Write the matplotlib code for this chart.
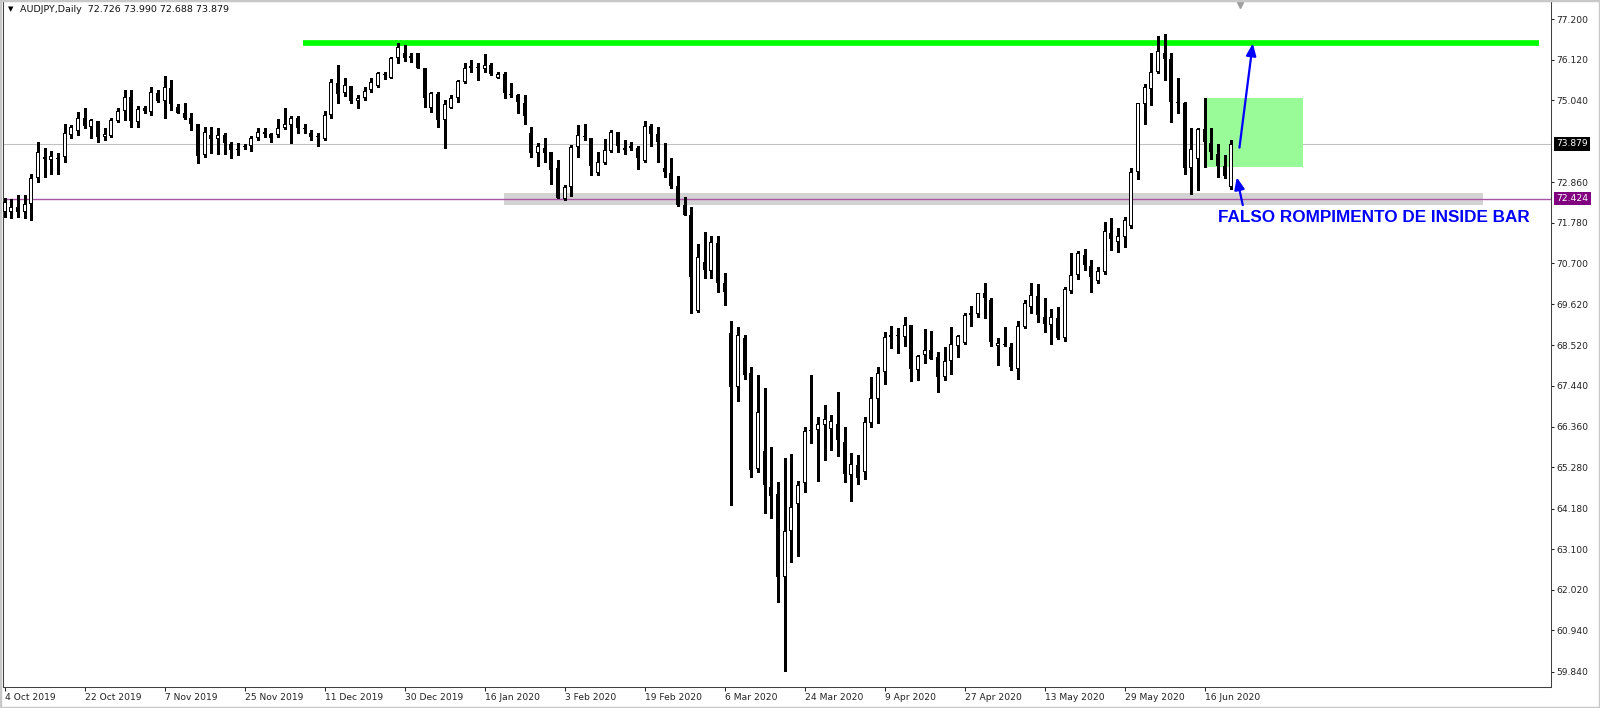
import numpy as np
import matplotlib.pyplot as plt
import matplotlib.transforms as mtransforms
from matplotlib.patches import Rectangle

# AUDJPY daily candles, 4 Oct 2019 .. 22 Jun 2020
opens = [72.08, 72.06, 72.21, 72.06, 72.27, 72.98, 73.54, 73.45, 73.51, 73.52,
         74.11, 74.22, 74.58, 74.34, 74.50, 74.05, 74.09, 74.49, 74.75, 75.13,
         74.47, 74.82, 74.73, 75.22, 75.02, 75.37, 74.87, 74.69, 74.58, 74.42,
         73.58, 74.11, 74.00, 74.11, 73.88, 73.74, 73.79, 73.82, 74.03, 74.20,
         74.13, 74.11, 74.31, 74.38, 74.56, 74.29, 74.18, 74.06, 74.01, 74.65,
         75.51, 75.22, 75.42, 75.02, 75.09, 75.31, 75.42, 75.70, 75.62, 76.15,
         76.30, 76.15, 76.29, 75.91, 74.84, 75.20, 74.51, 74.84, 75.11, 75.53,
         75.91, 75.92, 75.86, 75.98, 75.64, 75.73, 75.20, 75.18, 74.97, 74.18,
         73.63, 73.78, 73.65, 73.23, 72.41, 72.72, 73.80, 74.09, 74.03, 73.10,
         73.38, 73.70, 74.19, 73.78, 73.81, 73.78, 73.43, 74.35, 74.14, 73.25,
         73.11, 72.76, 72.25, 71.99, 69.44, 70.73, 70.50, 71.25, 70.19, 68.84,
         67.40, 68.71, 67.78, 65.23, 65.71, 64.74, 64.57, 62.35, 63.59, 64.29,
         64.85, 66.25, 66.27, 66.40, 66.29, 66.42, 65.96, 65.07, 65.34, 65.16,
         66.46, 67.09, 67.80, 68.73, 68.76, 68.73, 69.06, 67.86, 68.26, 68.41,
         68.20, 67.67, 68.10, 68.51, 68.57, 69.32, 69.35, 69.90, 69.73, 68.50,
         68.56, 68.47, 67.88, 69.02, 69.55, 69.83, 69.28, 69.06, 69.26, 68.72,
         69.97, 70.39, 70.92, 70.63, 70.24, 70.48, 71.50, 71.28, 71.41, 71.69,
         73.14, 74.94, 75.34, 75.78, 76.30, 76.13, 75.00, 74.96, 73.25, 73.47,
         74.27, 73.89, 73.60, 73.29, 72.726]
highs = [72.43, 72.40, 72.52, 72.52, 73.09, 73.94, 73.76, 73.69, 73.63, 74.41,
         74.37, 74.73, 74.82, 74.53, 74.50, 74.29, 74.58, 74.82, 75.31, 75.31,
         74.89, 74.89, 75.40, 75.31, 75.68, 75.58, 74.94, 74.96, 74.69, 74.42,
         74.34, 74.34, 74.31, 74.16, 73.94, 73.91, 73.87, 74.10, 74.29, 74.29,
         74.16, 74.53, 74.84, 74.62, 74.62, 74.40, 74.25, 74.16, 74.76, 75.60,
         75.98, 75.64, 75.42, 75.18, 75.40, 75.62, 75.80, 75.80, 76.20, 76.55,
         76.51, 76.29, 76.30, 75.91, 75.27, 75.27, 75.04, 75.18, 75.59, 76.02,
         76.11, 76.02, 76.26, 76.02, 75.78, 75.80, 75.49, 75.20, 75.18, 74.34,
         73.89, 74.03, 73.65, 73.45, 72.79, 73.85, 74.38, 74.41, 74.03, 73.67,
         74.00, 74.25, 74.19, 73.98, 73.94, 73.81, 74.50, 74.42, 74.34, 73.89,
         73.51, 73.02, 72.47, 72.21, 71.22, 71.53, 71.43, 71.43, 70.44, 69.18,
         69.00, 68.80, 67.95, 67.73, 67.38, 65.83, 64.88, 65.53, 65.63, 64.90,
         66.36, 67.72, 66.62, 66.94, 66.67, 67.27, 66.36, 65.65, 65.60, 66.62,
         67.67, 67.94, 68.88, 69.04, 68.97, 69.27, 69.06, 68.26, 68.95, 68.91,
         68.35, 68.49, 69.02, 68.80, 69.37, 69.57, 69.92, 70.19, 69.77, 68.71,
         69.00, 68.57, 69.18, 69.73, 70.17, 70.14, 69.77, 69.50, 69.53, 70.08,
         70.97, 71.03, 71.07, 70.79, 70.61, 71.81, 71.92, 71.63, 71.94, 73.23,
         74.97, 75.47, 76.29, 76.76, 76.79, 76.30, 75.62, 75.00, 74.31, 74.31,
         75.09, 74.31, 73.88, 73.57, 73.990]
lows = [71.94, 71.92, 71.94, 71.90, 71.85, 72.87, 73.00, 73.09, 73.08, 73.41,
        74.03, 74.11, 74.29, 74.03, 73.94, 73.98, 74.05, 74.47, 74.51, 74.34,
        74.34, 74.71, 74.66, 75.00, 74.58, 74.78, 74.69, 74.54, 74.25, 73.36,
        73.54, 73.63, 73.61, 73.61, 73.50, 73.58, 73.73, 73.70, 73.98, 74.07,
        73.94, 74.07, 74.27, 73.89, 74.18, 74.18, 73.98, 73.82, 73.98, 74.56,
        74.97, 75.15, 74.96, 74.84, 75.04, 75.27, 75.40, 75.60, 75.62, 76.02,
        76.09, 76.06, 75.89, 74.87, 74.73, 74.34, 73.76, 74.82, 75.00, 75.49,
        75.80, 75.58, 75.80, 75.71, 75.62, 75.11, 75.13, 74.69, 74.41, 73.54,
        73.29, 73.41, 72.81, 72.43, 72.39, 72.48, 73.54, 73.98, 73.05, 73.05,
        73.34, 73.67, 73.67, 73.61, 73.72, 73.20, 73.41, 73.81, 73.41, 73.01,
        72.70, 72.23, 71.99, 69.37, 69.42, 70.30, 70.30, 69.95, 69.59, 64.27,
        67.05, 67.62, 65.03, 65.16, 64.05, 63.92, 61.69, 59.87, 62.77, 62.92,
        64.63, 65.92, 64.90, 65.47, 65.74, 65.58, 64.88, 64.39, 64.83, 64.96,
        66.36, 66.46, 67.48, 68.46, 68.33, 68.50, 67.57, 67.60, 68.06, 68.17,
        67.29, 67.60, 67.76, 68.22, 68.56, 69.04, 69.28, 69.24, 68.50, 67.99,
        68.50, 67.86, 67.62, 68.97, 69.37, 69.15, 68.88, 68.56, 68.68, 68.64,
        69.90, 70.28, 70.52, 69.95, 70.19, 70.42, 71.06, 71.01, 71.14, 71.63,
        72.94, 74.42, 74.91, 75.76, 75.58, 74.47, 74.71, 73.08, 72.54, 72.65,
        73.27, 73.47, 72.99, 72.96, 72.688]
closes = [72.34, 72.21, 72.06, 72.27, 72.98, 73.65, 73.47, 73.56, 73.48, 74.16,
          74.34, 74.58, 74.35, 74.51, 74.07, 74.13, 74.51, 74.75, 75.13, 74.50,
          74.81, 74.75, 75.27, 75.02, 75.38, 74.93, 74.71, 74.58, 74.41, 73.56,
          74.20, 74.00, 74.11, 73.89, 73.72, 73.72, 73.82, 74.03, 74.20, 74.14,
          74.03, 74.31, 74.40, 74.56, 74.31, 74.27, 74.06, 74.08, 74.66, 75.53,
          75.20, 75.44, 75.03, 75.11, 75.29, 75.53, 75.76, 75.72, 76.17, 76.46,
          76.15, 76.22, 75.89, 75.11, 75.24, 74.51, 74.94, 75.11, 75.55, 75.91,
          75.95, 75.91, 75.98, 75.73, 75.73, 75.22, 75.18, 75.00, 74.62, 73.63,
          73.83, 73.63, 73.18, 72.43, 72.74, 73.80, 74.12, 74.05, 73.30, 73.41,
          73.72, 74.19, 73.81, 73.72, 73.76, 73.50, 74.35, 74.13, 73.94, 73.14,
          72.76, 72.25, 71.99, 70.35, 70.86, 70.52, 71.28, 70.17, 69.95, 67.42,
          68.80, 67.73, 65.21, 66.76, 64.81, 64.52, 62.37, 63.57, 64.23, 64.81,
          66.24, 66.27, 66.42, 66.55, 66.51, 66.00, 65.10, 65.37, 64.98, 66.49,
          67.11, 67.79, 68.75, 68.80, 68.78, 69.06, 67.88, 68.24, 68.40, 68.17,
          67.69, 68.10, 68.56, 68.77, 69.33, 69.37, 69.92, 69.79, 68.62, 68.57,
          68.54, 67.95, 69.04, 69.64, 69.86, 69.34, 69.10, 69.28, 68.71, 70.01,
          70.39, 70.97, 70.66, 70.33, 70.50, 71.56, 71.34, 71.43, 71.85, 73.14,
          74.96, 75.38, 75.80, 76.35, 76.13, 75.00, 74.97, 73.25, 73.73, 74.27,
          73.94, 73.67, 73.29, 73.03, 73.879]

date_labels = ['4 Oct 2019', '22 Oct 2019', '7 Nov 2019', '25 Nov 2019', '11 Dec 2019',
               '30 Dec 2019', '16 Jan 2020', '3 Feb 2020', '19 Feb 2020', '6 Mar 2020',
               '24 Mar 2020', '9 Apr 2020', '27 Apr 2020', '13 May 2020', '29 May 2020',
               '16 Jun 2020']
price_ticks = [77.200, 76.120, 75.040, 72.860, 71.780, 70.700, 69.620, 68.520,
               67.440, 66.360, 65.280, 64.180, 63.100, 62.020, 60.940, 59.840]

resistance = 76.567          # green line
support = 72.424             # purple line
band_low, band_high = 72.25, 72.56
mother_bar = 180             # inside-bar box drawn from this candle's range
last_price = closes[-1]

W, H = 1600, 708
fig = plt.figure(figsize=(W / 100, H / 100), dpi=100)
ax = fig.add_axes([3 / W, (H - 687) / H, (1551 - 3) / W, (687 - 1) / H])

n = len(opens)
x = np.arange(n)
ax.set_xlim(-0.255, 231.93)
ax.set_ylim(59.434, 77.679)

# pixel sizes in data units
px_x = (231.93 + 0.255) / 1548
px_y = (77.679 - 59.434) / 686

# background objects
ax.axhline(last_price, color='#C0C0C0', lw=0.75, zorder=1)
ax.add_patch(Rectangle((74.9, band_low), 221.8 - 74.9, band_high - band_low,
                       facecolor='#D3D3D3', edgecolor='none', zorder=1))
ax.axhline(support, color='#A855A8', lw=1.0, zorder=2)
ax.add_patch(Rectangle((mother_bar, lows[mother_bar]), 194.8 - mother_bar,
                       highs[mother_bar] - lows[mother_bar],
                       facecolor='#98FB98', edgecolor='none', zorder=1))
ax.hlines(resistance, 44.8, 230.2, color='#00FF00', lw=4.1, zorder=2)

# candles: black outer body, white inner body for rising days
ax.vlines(x, lows, highs, color='black', lw=0.75, zorder=3, antialiased=False)
bw = 4 * px_x
for i in range(n):
    o, c = opens[i], closes[i]
    bottom = min(o, c)
    h = max(abs(c - o), px_y)
    ax.add_patch(Rectangle((i - bw / 2, bottom), bw, h, facecolor='black',
                           edgecolor='none', zorder=4, antialiased=False))
    if c > o and h > 2.5 * px_y:
        ax.add_patch(Rectangle((i - bw / 2 + px_x, bottom + px_y), bw - 2 * px_x,
                               h - 2 * px_y, facecolor='white', edgecolor='none',
                               zorder=5, antialiased=False))

# arrows and note
blue = '#0000FF'
astyle = '-|>,head_length=0.6,head_width=0.25'
ax.annotate('', xy=(187.2, 76.55), xytext=(185.2, 73.78),
            arrowprops=dict(arrowstyle=astyle, color=blue, lw=1.6, mutation_scale=12,
                            shrinkA=0, shrinkB=0), zorder=6)
ax.annotate('', xy=(184.8, 72.99), xytext=(185.7, 72.25),
            arrowprops=dict(arrowstyle=astyle, color=blue, lw=1.6, mutation_scale=12,
                            shrinkA=0, shrinkB=0), zorder=6)
ax.text(182.0, 71.934, 'FALSO ROMPIMENTO DE INSIDE BAR', color=blue,
        fontsize=12.3, fontweight='bold', family='Liberation Sans',
        ha='left', va='center', zorder=6)

# axes styling
for s in ax.spines.values():
    s.set_color('#404040')
    s.set_linewidth(0.75)
ax.yaxis.tick_right()
ax.set_yticks(price_ticks)
ax.set_yticklabels(['%.3f' % v for v in price_ticks])
ax.tick_params(axis='y', length=2.2, width=0.75, pad=1.9, labelsize=6.6,
               colors='#222222')
ax.set_xticks(np.arange(0, 12 * len(date_labels), 12))
ax.set_xticklabels(date_labels, ha='left')
ax.tick_params(axis='x', length=3, width=0.75, pad=1.2, labelsize=6.6,
               colors='#222222')

# price boxes on the right scale
tr = mtransforms.blended_transform_factory(ax.transAxes, ax.transData)
tx = (1556.5 - 3) / (1551 - 3)
ax.text(tx, last_price, '%.3f' % last_price, transform=tr, fontsize=6.6,
        color='white', ha='left', va='center', clip_on=False,
        bbox=dict(boxstyle='square,pad=0.25', facecolor='black', edgecolor='none'))
ax.text(tx, support, '%.3f' % support, transform=tr, fontsize=6.6,
        color='white', ha='left', va='center', clip_on=False,
        bbox=dict(boxstyle='square,pad=0.25', facecolor='#800080', edgecolor='none'))

# chart shift marker
ax.plot([185.3], [77.572], marker='v', markersize=5, color='#A0A0A0',
        clip_on=False, zorder=7)

# header
fig.text(8 / W, 1 - 9.5 / H, '\u25bc', fontsize=5, color='black', va='center')
fig.text(20 / W, 1 - 9.5 / H,
         'AUDJPY,Daily  %.3f %.3f %.3f %.3f' % (opens[-1], highs[-1], lows[-1], closes[-1]),
         fontsize=6.8, color='#111111', va='center')

fig.patches.append(Rectangle((0, 0), 1, 1, transform=fig.transFigure, fill=False,
                             edgecolor='#C8C8C8', lw=2.5))

fig.savefig('out.png', dpi=100, facecolor='white')
